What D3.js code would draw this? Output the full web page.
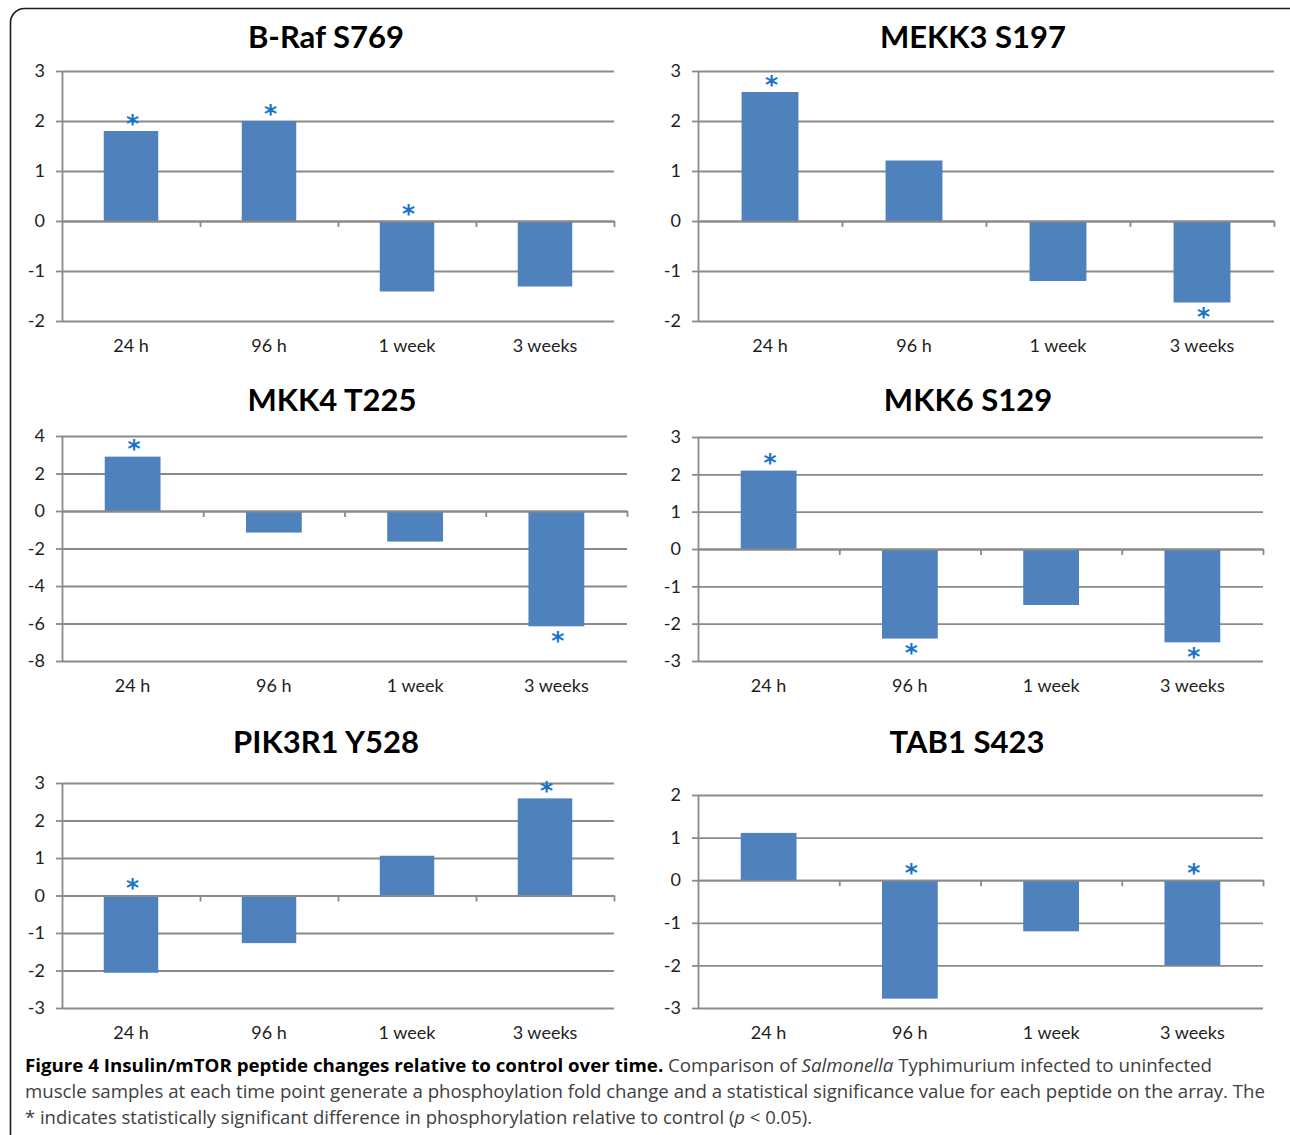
<!DOCTYPE html>
<html>
<head>
<meta charset="utf-8">
<script src="https://cdn.jsdelivr.net/npm/d3@7"></script>
<style>
  html, body { margin: 0; padding: 0; background: #fff; }
  svg { display: block; }
</style>
</head>
<body>
<svg id="fig" width="1290" height="1135"></svg>
<script>
// Time points shared by every panel
const timePoints = ["24 h", "96 h", "1 week", "3 weeks"];

// Peptide titles
const peptideNames = ["B-Raf S769", "MEKK3 S197", "MKK4 T225", "MKK6 S129", "PIK3R1 Y528", "TAB1 S423"];

// Phosphorylation fold change per time point
const brafValues   = [1.8, 2.0, -1.41, -1.31];
const mekk3Values  = [2.58, 1.21, -1.2, -1.63];
const mkk4Values   = [2.9, -1.15, -1.63, -6.15];
const mkk6Values   = [2.1, -2.4, -1.5, -2.5];
const pik3r1Values = [-2.06, -1.27, 1.06, 2.59];
const tab1Values   = [1.11, -2.78, -1.2, -2.0];

// Significance markers (p < 0.05): where the asterisk sits relative to the bar
const brafSig   = ["above", "above", "above", null];
const mekk3Sig  = ["above", null, null, "below"];
const mkk4Sig   = ["above", null, null, "below"];
const mkk6Sig   = ["above", "below", null, "below"];
const pik3r1Sig = ["above", null, null, "above"];
const tab1Sig   = [null, "above", null, "above"];

// Y-axis tick labels for each panel
const brafTicks   = [-2, -1, 0, 1, 2, 3];
const mekk3Ticks  = [-2, -1, 0, 1, 2, 3];
const mkk4Ticks   = [-8, -6, -4, -2, 0, 2, 4];
const mkk6Ticks   = [-3, -2, -1, 0, 1, 2, 3];
const pik3r1Ticks = [-3, -2, -1, 0, 1, 2, 3];
const tab1Ticks   = [-3, -2, -1, 0, 1, 2];

// Panel frames: plot-area edges and title placement
const panels = [
  { name: peptideNames[0], values: brafValues,   sig: brafSig,   ticks: brafTicks,   left: 62,  right: 614,  top: 71,  bottom: 321,  titleX: 326, titleY: 48 },
  { name: peptideNames[1], values: mekk3Values,  sig: mekk3Sig,  ticks: mekk3Ticks,  left: 698, right: 1274, top: 71,  bottom: 321,  titleX: 973, titleY: 48 },
  { name: peptideNames[2], values: mkk4Values,   sig: mkk4Sig,   ticks: mkk4Ticks,   left: 62,  right: 627,  top: 436, bottom: 661,  titleX: 332, titleY: 411 },
  { name: peptideNames[3], values: mkk6Values,   sig: mkk6Sig,   ticks: mkk6Ticks,   left: 698, right: 1263, top: 437, bottom: 661,  titleX: 968, titleY: 411 },
  { name: peptideNames[4], values: pik3r1Values, sig: pik3r1Sig, ticks: pik3r1Ticks, left: 62,  right: 614,  top: 783, bottom: 1008, titleX: 326, titleY: 753 },
  { name: peptideNames[5], values: tab1Values,   sig: tab1Sig,   ticks: tab1Ticks,   left: 698, right: 1263, top: 795, bottom: 1008, titleX: 967, titleY: 753 }
];

const BAR = "#4f81bd";
const GRID = "#8a8a8a";
const STAR = "#1874c9";
const LABEL = "#1e1e1e";
const UI_FONT = "Lato, 'Open Sans', sans-serif";

const svg = d3.select("#fig");
svg.append("rect").attr("width", 1290).attr("height", 1135).attr("fill", "#fff");

// Figure frame with rounded corners (runs off the bottom and right)
svg.append("rect")
  .attr("x", 10.5).attr("y", 8.5)
  .attr("width", 1295).attr("height", 1150)
  .attr("rx", 14).attr("ry", 14)
  .attr("fill", "none").attr("stroke", "#1c1c1c").attr("stroke-width", 1.6);

panels.forEach(p => {
  const g = svg.append("g");
  const dom = d3.extent(p.ticks);

  const x = d3.scaleBand().domain(timePoints).range([p.left, p.right]);
  const y = d3.scaleLinear().domain(dom).range([p.bottom, p.top]);
  const width = p.right - p.left;

  // Title
  g.append("text")
    .attr("x", p.titleX).attr("y", p.titleY)
    .attr("text-anchor", "middle")
    .attr("font-family", UI_FONT)
    .attr("font-weight", 700)
    .attr("font-size", 31)
    .attr("fill", "#000")
    .text(p.name);

  // Horizontal gridlines
  const grid = g.append("g")
    .attr("transform", `translate(${p.left},0)`)
    .call(d3.axisLeft(y).tickValues(p.ticks).tickSize(-width).tickFormat(""));
  grid.select(".domain").remove();
  grid.selectAll(".tick line").attr("stroke", GRID).attr("stroke-width", 1.8);

  // Y axis with outward ticks and labels
  const yAxis = g.append("g")
    .attr("transform", `translate(${p.left},0)`)
    .call(d3.axisLeft(y).tickValues(p.ticks).tickSize(6).tickSizeOuter(0).tickPadding(11).tickFormat(d3.format("d")));
  yAxis.select(".domain").attr("stroke", GRID).attr("stroke-width", 1.8);
  yAxis.selectAll(".tick line").attr("stroke", GRID).attr("stroke-width", 1.8);
  yAxis.selectAll(".tick text")
    .attr("fill", LABEL)
    .attr("font-family", UI_FONT)
    .attr("font-size", 18)
    .text(d => d < 0 ? "-" + Math.abs(d) : d);

  // Bars
  const bw = x.bandwidth() * 0.395;
  g.append("g").selectAll("rect")
    .data(p.values)
    .join("rect")
    .attr("x", (d, i) => x(timePoints[i]) + (x.bandwidth() - bw) / 2)
    .attr("width", bw)
    .attr("y", d => y(Math.max(0, d)))
    .attr("height", d => Math.abs(y(d) - y(0)))
    .attr("fill", BAR);

  // Zero line with category boundary ticks
  const edges = d3.range(timePoints.length + 1);
  const edgeScale = d3.scaleLinear().domain([0, timePoints.length]).range([p.left, p.right]);
  const xAxis = g.append("g")
    .attr("transform", `translate(0,${y(0)})`)
    .call(d3.axisBottom(edgeScale).tickValues(edges.slice(1)).tickSize(6).tickSizeOuter(0).tickFormat(""));
  xAxis.select(".domain").attr("stroke", GRID).attr("stroke-width", 1.8);
  xAxis.selectAll(".tick line").attr("stroke", GRID).attr("stroke-width", 1.8);

  // Category labels under the plot
  const cat = g.append("g")
    .attr("transform", `translate(0,${p.bottom})`)
    .call(d3.axisBottom(x).tickSize(0).tickPadding(18));
  cat.select(".domain").remove();
  cat.selectAll(".tick text")
    .attr("fill", LABEL)
    .attr("font-family", UI_FONT)
    .attr("font-size", 18);

  // Significance asterisks
  const starSize = 25;
  g.append("g").selectAll("text")
    .data(p.values.map((v, i) => ({ v, i, pos: p.sig[i] })).filter(d => d.pos))
    .join("text")
    .attr("x", d => x(timePoints[d.i]) + x.bandwidth() / 2 + 1.5)
    .attr("y", d => d.pos === "above" ? y(Math.max(0, d.v)) - 14 : y(Math.min(0, d.v)) + 8)
    .attr("dy", starSize * 0.58)
    .attr("text-anchor", "middle")
    .attr("font-family", "'DejaVu Sans', sans-serif")
    .attr("font-weight", 700)
    .attr("font-size", starSize)
    .attr("fill", STAR)
    .text("*");
});

// Figure legend
const captionLines = [
  [
    { t: "Figure 4 Insulin/mTOR peptide changes relative to control over time.", w: 700, c: "#000" },
    { t: " Comparison of ", c: "#404040" },
    { t: "Salmonella", s: "italic", c: "#404040" },
    { t: " Typhimurium infected to uninfected", c: "#404040" }
  ],
  [
    { t: "muscle samples at each time point generate a phosphoylation fold change and a statistical significance value for each peptide on the array. The", c: "#404040" }
  ],
  [
    { t: "* indicates statistically significant difference in phosphorylation relative to control (", c: "#404040" },
    { t: "p", s: "italic", c: "#404040" },
    { t: " < 0.05).", c: "#404040" }
  ]
];
const captionWidths = [1187, 1240, 787];
const captionBase = [1072, 1098, 1124];

captionLines.forEach((line, li) => {
  const t = svg.append("text")
    .attr("x", 25).attr("y", captionBase[li])
    .attr("font-family", "'Open Sans', sans-serif")
    .attr("font-size", 18)
    .attr("textLength", captionWidths[li])
    .attr("lengthAdjust", "spacingAndGlyphs");
  line.forEach(seg => {
    t.append("tspan")
      .attr("font-weight", seg.w || 400)
      .attr("font-style", seg.s || "normal")
      .attr("fill", seg.c)
      .text(seg.t);
  });
});
</script>
</body>
</html>
